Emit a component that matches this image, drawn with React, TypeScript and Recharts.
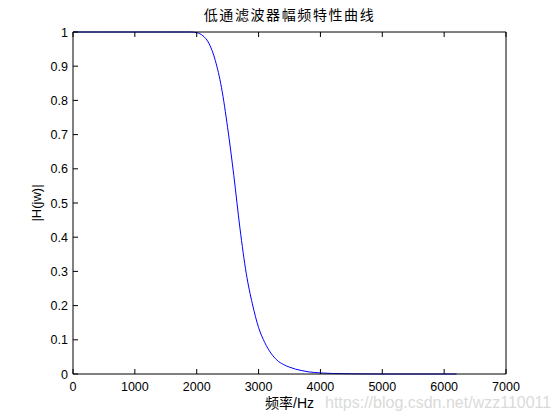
import { LineChart, Line, XAxis, YAxis } from 'recharts'

// frequency (Hz) and |H(jw)|
const freqHz = [
  0, 500, 1000, 1500, 1800, 1900, 2000, 2100, 2200, 2300, 2400, 2500, 2600, 2700, 2800, 2900, 3000, 3100,
  3200, 3300, 3400, 3500, 3600, 3700, 3800, 3900, 4000, 4200, 4500, 5000, 5500, 6000, 6200,
]
const magnitude = [
  1, 1, 1, 1, 1, 1, 0.998, 0.989, 0.966, 0.917, 0.838, 0.72, 0.58, 0.425, 0.295, 0.205, 0.136, 0.092,
  0.061, 0.04, 0.028, 0.02, 0.014, 0.01, 0.0065, 0.0045, 0.003, 0.0015, 0.0005, 0, 0, 0, 0,
]
const xTicks = [0, 1000, 2000, 3000, 4000, 5000, 6000, 7000]
const yTicks = [0, 0.1, 0.2, 0.3, 0.4, 0.5, 0.6, 0.7, 0.8, 0.9, 1]

const title = '低通滤波器幅频特性曲线'
const xLabel = '频率/Hz'
const yLabel = '|H(jw)|'
const watermark = 'https://blog.csdn.net/wzz110011'

const data = freqHz.map((f, i) => ({ f, h: magnitude[i] }))

const FONT = '"Liberation Sans", Arial, "Noto Sans CJK SC", sans-serif'
const TICK_LEN = 5

const BottomTick = (props: any) => {
  const { x, y, payload } = props
  return (
    <g>
      <line x1={x} y1={y} x2={x} y2={y - TICK_LEN} stroke="#000" />
      <text x={x} y={y + 17} textAnchor="middle" fontSize={12.5} fontFamily={FONT} fill="#000">
        {payload.value}
      </text>
    </g>
  )
}

const TopTick = (props: any) => {
  const { x, y } = props
  return <line x1={x} y1={y} x2={x} y2={y + TICK_LEN} stroke="#000" />
}

const LeftTick = (props: any) => {
  const { x, y, payload } = props
  return (
    <g>
      <line x1={x} y1={y} x2={x + TICK_LEN} y2={y} stroke="#000" />
      <text x={x - 5} y={y + 4.5} textAnchor="end" fontSize={12.5} fontFamily={FONT} fill="#000">
        {payload.value}
      </text>
    </g>
  )
}

const RightTick = (props: any) => {
  const { x, y } = props
  return <line x1={x} y1={y} x2={x - TICK_LEN} y2={y} stroke="#000" />
}

export default function App() {
  return (
    <div style={{ position: 'absolute', left: 0, top: 0, width: 560, height: 420, background: '#fff' }}>
      <LineChart width={560} height={420} data={data} margin={{ top: 0, right: 0, bottom: 0, left: 0 }}>
        <XAxis
          xAxisId="bottom"
          dataKey="f"
          type="number"
          domain={[0, 7000]}
          ticks={xTicks}
          height={46}
          tickSize={0}
          tickMargin={0}
          tickLine={false}
          stroke="#000"
          tick={BottomTick}
          label={(p: any) => {
            const vb = p.viewBox
            return (
              <g>
                <text
                  x={vb.x + vb.width / 2}
                  y={vb.y + 34}
                  textAnchor="middle"
                  fontSize={14}
                  fontFamily={FONT}
                  fill="#000"
                >
                  {xLabel}
                </text>
                <text x={325} y={vb.y + 34} fontSize={16} fontFamily={FONT} fill="#dadada">
                  {watermark}
                </text>
              </g>
            )
          }}
        />
        <XAxis
          xAxisId="top"
          dataKey="f"
          type="number"
          orientation="top"
          domain={[0, 7000]}
          ticks={xTicks}
          height={32}
          tickSize={0}
          tickMargin={0}
          tickLine={false}
          stroke="#000"
          tick={TopTick}
          label={(p: any) => {
            const vb = p.viewBox
            return (
              <text
                x={vb.x + vb.width / 2}
                y={20}
                textAnchor="middle"
                fontSize={14}
                letterSpacing={1.6}
                fontFamily={FONT}
                fill="#000"
              >
                {title}
              </text>
            )
          }}
        />
        <YAxis
          yAxisId="left"
          type="number"
          domain={[0, 1]}
          ticks={yTicks}
          width={73}
          tickSize={0}
          tickMargin={0}
          tickLine={false}
          stroke="#000"
          tick={LeftTick}
          label={(p: any) => {
            const vb = p.viewBox
            const cy = vb.y + vb.height / 2
            return (
              <text
                x={36}
                y={cy}
                transform={`rotate(-90 36 ${cy})`}
                textAnchor="middle"
                dominantBaseline="central"
                fontSize={13}
                fontFamily={FONT}
                fill="#000"
              >
                {yLabel}
              </text>
            )
          }}
        />
        <YAxis
          yAxisId="right"
          orientation="right"
          type="number"
          domain={[0, 1]}
          ticks={yTicks}
          width={54}
          tickSize={0}
          tickMargin={0}
          tickLine={false}
          stroke="#000"
          tick={RightTick}
        />
        <Line
          xAxisId="bottom"
          yAxisId="left"
          dataKey="h"
          type="monotone"
          stroke="#0000ff"
          strokeWidth={1}
          dot={false}
          activeDot={false}
          isAnimationActive={false}
        />
      </LineChart>
    </div>
  )
}
